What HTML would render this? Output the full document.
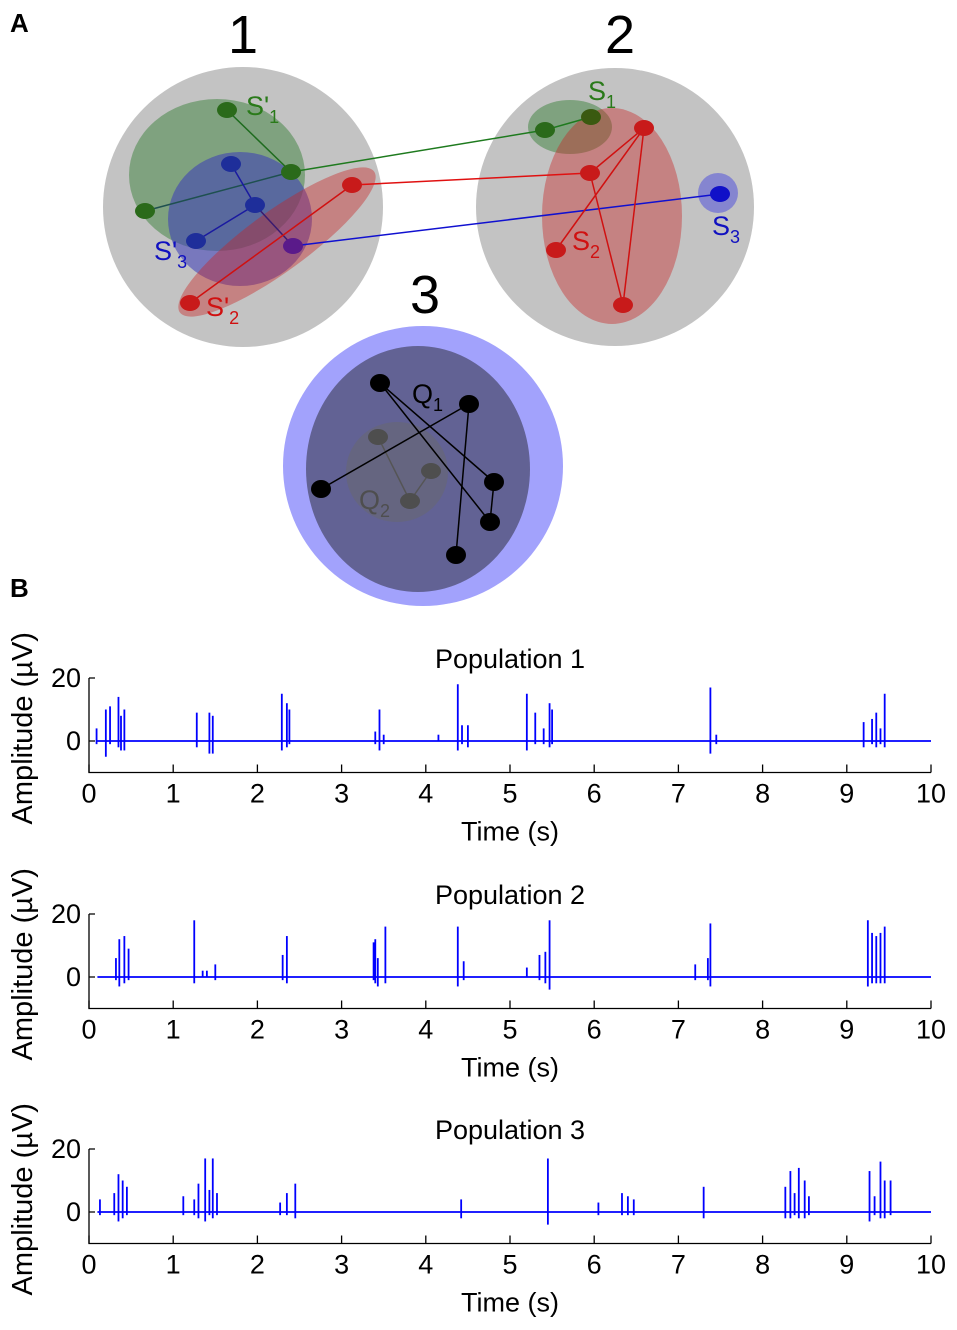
<!DOCTYPE html>
<html><head><meta charset="utf-8"><style>
html,body{margin:0;padding:0;background:#fff;}
svg{display:block;font-family:"Liberation Sans",Arial,sans-serif;}
</style></head><body>
<svg id="fig" width="957" height="1330" viewBox="0 0 957 1330">
<g>
<text x="10" y="32" font-size="26" font-weight="bold">A</text>
<text x="243" y="53" font-size="54" text-anchor="middle">1</text>
<text x="620" y="53" font-size="54" text-anchor="middle">2</text>
<text x="425" y="313" font-size="54" text-anchor="middle">3</text>
<circle cx="243" cy="207" r="140" fill="#c3c3c3"/>
<circle cx="615" cy="207" r="139" fill="#c3c3c3"/>
<ellipse cx="217" cy="175" rx="88" ry="76" fill="#2d7a2d" fill-opacity="0.45"/>
<ellipse cx="240" cy="219" rx="72" ry="67" fill="#3a3ab8" fill-opacity="0.55"/>
<ellipse cx="277" cy="242" rx="120" ry="30" transform="rotate(-36 277 242)" fill="#c82020" fill-opacity="0.4"/>
<ellipse cx="570" cy="127" rx="42" ry="27" fill="#2d7a2d" fill-opacity="0.45"/>
<ellipse cx="612" cy="216" rx="70" ry="108" fill="#c82020" fill-opacity="0.4"/>
<ellipse cx="718" cy="193" rx="20" ry="20" fill="#3a3ae0" fill-opacity="0.45"/>
<g stroke-width="1.5">
<line x1="227" y1="110" x2="291" y2="172" stroke="#1e6b1e"/>
<line x1="145" y1="211" x2="291" y2="172" stroke="#1e5050"/>
<line x1="231" y1="164" x2="255" y2="205" stroke="#1a1aa0"/>
<line x1="255" y1="205" x2="196" y2="241" stroke="#1a1aa0"/>
<line x1="255" y1="205" x2="293" y2="246" stroke="#3a1a70"/>
<line x1="190" y1="303" x2="352" y2="185" stroke="#d01010"/>
<line x1="291" y1="172" x2="545" y2="130" stroke="#1e7a1e"/>
<line x1="545" y1="130" x2="591" y2="117" stroke="#1e7a1e"/>
<line x1="352" y1="185" x2="590" y2="173" stroke="#e01010"/>
<line x1="293" y1="246" x2="720" y2="194" stroke="#1010d0"/>
<line x1="644" y1="128" x2="590" y2="173" stroke="#d01010"/>
<line x1="644" y1="128" x2="556" y2="250" stroke="#d01010"/>
<line x1="644" y1="128" x2="623" y2="305" stroke="#d01010"/>
<line x1="590" y1="173" x2="623" y2="305" stroke="#d01010"/>
</g>
<g>
<ellipse cx="227" cy="110" rx="10" ry="8" fill="#2a6a1a"/>
<ellipse cx="291" cy="172" rx="10" ry="8" fill="#2a6a1a"/>
<ellipse cx="145" cy="211" rx="10" ry="8" fill="#2a6a1a"/>
<ellipse cx="231" cy="164" rx="10" ry="8" fill="#1e2e9a"/>
<ellipse cx="255" cy="205" rx="10" ry="8" fill="#1e2e9a"/>
<ellipse cx="196" cy="241" rx="10" ry="8" fill="#1e2e9a"/>
<ellipse cx="293" cy="246" rx="10" ry="8" fill="#5a1a8a"/>
<ellipse cx="352" cy="185" rx="10" ry="8" fill="#c81a1a"/>
<ellipse cx="190" cy="303" rx="10" ry="8" fill="#c81a1a"/>
<ellipse cx="545" cy="130" rx="10" ry="8" fill="#2a6a1a"/>
<ellipse cx="591" cy="117" rx="10" ry="8" fill="#3a5a10"/>
<ellipse cx="644" cy="128" rx="10" ry="8" fill="#c81a1a"/>
<ellipse cx="590" cy="173" rx="10" ry="8" fill="#c81a1a"/>
<ellipse cx="556" cy="250" rx="10" ry="8" fill="#c81a1a"/>
<ellipse cx="623" cy="305" rx="10" ry="8" fill="#c81a1a"/>
<ellipse cx="720" cy="194" rx="10" ry="8" fill="#1010c8"/>
</g>
<g font-size="27">
<text x="246" y="115" fill="#2a7a1a">S'<tspan font-size="18" dy="8">1</tspan></text>
<text x="154" y="260" fill="#1010c0">S'<tspan font-size="18" dy="8">3</tspan></text>
<text x="206" y="316" fill="#d01010">S'<tspan font-size="18" dy="8">2</tspan></text>
<text x="588" y="100" fill="#2a7a1a">S<tspan font-size="18" dy="8">1</tspan></text>
<text x="572" y="250" fill="#d01010">S<tspan font-size="18" dy="8">2</tspan></text>
<text x="712" y="235" fill="#1010c0">S<tspan font-size="18" dy="8">3</tspan></text>
</g>
<circle cx="423" cy="466" r="140" fill="#a2a2fc"/>
<ellipse cx="418" cy="469" rx="112" ry="123" fill="#626294"/>
<ellipse cx="397" cy="472" rx="51" ry="50" fill="#66667a" fill-opacity="0.8"/>
<g stroke="#555" stroke-width="1.5">
<line x1="378" y1="437" x2="410" y2="501"/><line x1="410" y1="501" x2="431" y2="471"/>
</g>
<g fill="#4e4e4e">
<ellipse cx="378" cy="437" rx="10" ry="8"/><ellipse cx="431" cy="471" rx="10" ry="8"/><ellipse cx="410" cy="501" rx="10" ry="8"/>
</g>
<g stroke="#000" stroke-width="1.5">
<line x1="380" y1="383" x2="494" y2="482"/><line x1="380" y1="383" x2="490" y2="522"/>
<line x1="494" y1="482" x2="490" y2="522"/><line x1="469" y1="404" x2="456" y2="555"/>
<line x1="469" y1="404" x2="321" y2="489"/>
</g>
<g fill="#000">
<ellipse cx="380" cy="383" rx="10" ry="9"/><ellipse cx="469" cy="404" rx="10" ry="9"/>
<ellipse cx="321" cy="489" rx="10" ry="9"/><ellipse cx="494" cy="482" rx="10" ry="9"/>
<ellipse cx="490" cy="522" rx="10" ry="9"/><ellipse cx="456" cy="555" rx="10" ry="9"/>
</g>
<text x="412" y="403" font-size="27" fill="#000">Q<tspan font-size="18" dy="8">1</tspan></text>
<text x="359" y="509" font-size="27" fill="#4e4e4e">Q<tspan font-size="18" dy="8">2</tspan></text>
</g>
<text x="10" y="597" font-size="26" font-weight="bold">B</text>
<g id="charts"></g>
</svg>
<script>
const xTicks = [0,1,2,3,4,5,6,7,8,9,10];
const yTicks = [0,20];
const titles = ["Population 1","Population 2","Population 3"];
// spikes: [time s, positive peak µV, negative peak µV]
const pop1Spikes = [[0.09,4,-1],[0.2,10,-5],[0.25,11,-1],[0.35,14,-2],[0.38,8,-3],[0.42,10,-3],[1.28,9,-2],[1.43,9,-4],[1.47,8,-4],[2.29,15,-3],[2.35,12,-2],[2.38,10,-1],[3.4,3,-1],[3.45,10,-3],[3.5,2,-1],[4.15,2,0],[4.38,18,-3],[4.43,5,-1],[4.5,5,-2],[5.2,15,-3],[5.3,9,-1],[5.4,4,-1],[5.47,12,-2],[5.5,10,-1],[7.38,17,-4],[7.45,2,-1],[9.2,6,-2],[9.3,7,-1],[9.35,9,-2],[9.4,4,-1],[9.45,15,-2]];
const pop2Spikes = [[0.32,6,-1],[0.36,12,-3],[0.42,13,-2],[0.47,9,-1],[1.25,18,-2],[1.35,2,0],[1.4,2,0],[1.5,4,-1],[2.3,7,-1],[2.35,13,-2],[3.38,11,-1],[3.4,12,-2],[3.43,6,-3],[3.52,16,-2],[4.38,16,-3],[4.45,5,-1],[5.2,3,0],[5.35,7,-1],[5.42,8,-2],[5.47,18,-4],[7.2,4,-1],[7.35,6,-1],[7.38,17,-3],[9.25,18,-3],[9.3,14,-2],[9.35,13,-2],[9.4,14,-2],[9.45,16,-2]];
const pop3Spikes = [[0.13,4,-1],[0.3,6,-1],[0.35,12,-3],[0.4,10,-2],[0.45,8,-1],[1.12,5,-1],[1.25,4,-1],[1.3,9,-2],[1.38,17,-3],[1.43,7,-1],[1.47,17,-2],[1.52,6,-1],[2.27,3,-1],[2.35,6,-1],[2.45,9,-2],[4.42,4,-2],[5.45,17,-4],[6.05,3,-1],[6.33,6,-1],[6.4,5,-1],[6.47,4,-1],[7.3,8,-2],[8.27,8,-2],[8.33,13,-2],[8.38,6,-1],[8.43,14,-2],[8.5,10,-2],[8.55,5,-1],[9.27,13,-3],[9.33,5,-1],[9.4,16,-2],[9.45,10,-2],[9.52,10,-1]];
const allSpikes = [pop1Spikes,pop2Spikes,pop3Spikes];
const NS="http://www.w3.org/2000/svg";
const root=document.getElementById('charts');
const panelY0=[741,977,1212]; // pixel of y=0
function mk(tag,attrs,parent){const e=document.createElementNS(NS,tag);for(const k in attrs)e.setAttribute(k,attrs[k]);parent.appendChild(e);return e;}
allSpikes.forEach((spikes,p)=>{
  const y0=panelY0[p];
  const xS=t=>89+t*84.2;
  const yS=v=>y0-v*3.15;
  const g=mk('g',{},root);
  
  
  const top=yS(20), bot=yS(-10);
  const ax=mk('path',{d:`M${xS(0)} ${top}V${bot}H${xS(10)}`,fill:'none',stroke:'#000','stroke-width':1.3},g);
  
  
  mk('path',{d:`M${xS(0)} ${top}h6M${xS(0)} ${yS(0)}h6`,stroke:'#000','stroke-width':1.3},g);
  xTicks.forEach(t=>{
    const tk=mk('line',{x1:xS(t),x2:xS(t),y1:bot,y2:bot-8,stroke:'#000','stroke-width':1.3},g);
    
    
    const lb=mk('text',{x:xS(t),y:bot+30,'font-size':27,'text-anchor':'middle'},g);
    lb.textContent=t;
    
    
  });
  yTicks.forEach(v=>{
    const lb=mk('text',{x:xS(0)-8,y:yS(v)+9,'font-size':27,'text-anchor':'end'},g);
    lb.textContent=v;
    
    
  });
  const xt=mk('text',{x:510,y:bot+68,'font-size':27,'text-anchor':'middle'},g);
  xt.textContent='Time (s)';
  
  
  const yt=mk('text',{x:0,y:0,'font-size':29,'text-anchor':'middle',transform:`translate(32 ${(top+bot)/2+3}) rotate(-90)`},g);
  yt.textContent='Amplitude (µV)';
  
  
  const tt=mk('text',{x:510,y:top-10,'font-size':27,'text-anchor':'middle'},g);
  tt.textContent=titles[p];
  
  
  const base=mk('line',{x1:xS(0.1),x2:xS(10),y1:yS(0),y2:yS(0),stroke:'#0000ff','stroke-width':1.8},g);
  
  
  spikes.forEach(s=>{
    const l=mk('line',{x1:xS(s[0]),x2:xS(s[0]),y1:yS(s[1]),y2:yS(s[2]),stroke:'#0000ff','stroke-width':1.8},g);
    
    
  });
});
</script>
</body></html>
